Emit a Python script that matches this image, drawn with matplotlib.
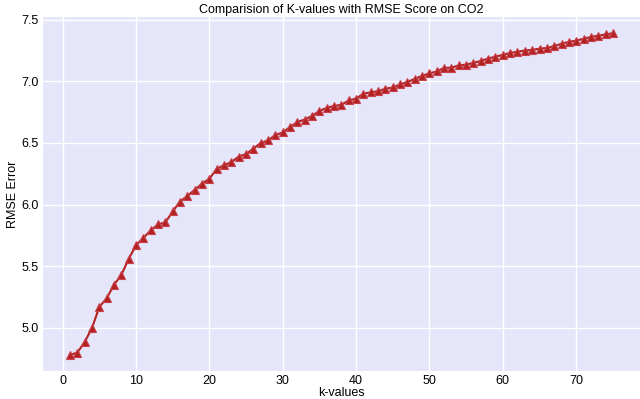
import matplotlib
matplotlib.use("Agg")
import matplotlib.pyplot as plt

k_values = list(range(1, 76))
rmse = [4.78, 4.80, 4.885, 5.00, 5.17, 5.24, 5.35, 5.43, 5.56, 5.67,
        5.73, 5.79, 5.84, 5.855, 5.945, 6.025, 6.07, 6.12, 6.17, 6.21,
        6.29, 6.32, 6.345, 6.39, 6.41, 6.455, 6.50, 6.52, 6.565, 6.585,
        6.63, 6.67, 6.69, 6.72, 6.76, 6.785, 6.80, 6.81, 6.845, 6.86,
        6.90, 6.91, 6.92, 6.94, 6.95, 6.975, 6.995, 7.02, 7.045, 7.065,
        7.08, 7.11, 7.11, 7.13, 7.135, 7.15, 7.165, 7.185, 7.20, 7.215,
        7.23, 7.24, 7.25, 7.255, 7.265, 7.27, 7.285, 7.305, 7.32, 7.33,
        7.345, 7.36, 7.37, 7.38, 7.39]

title = "Comparision of K-values with RMSE Score on CO2"
xlabel = "k-values"
ylabel = "RMSE Error"

plt.rcParams['font.family'] = ['Liberation Sans', 'DejaVu Sans']

fig = plt.figure(figsize=(6.4, 3.99), dpi=100)
ax = fig.add_axes([0.067, 0.070, 0.933, 0.887])
ax.set_facecolor('#E6E6FA')
for s in ax.spines.values():
    s.set_visible(False)
ax.grid(True, color='white', linewidth=1.0)
ax.set_axisbelow(True)
ax.tick_params(length=0, labelsize=9, pad=3)

ax.plot(k_values, rmse, color='#B22222', linewidth=1.5, marker='^',
        markersize=6, markerfacecolor='#B22222', markeredgecolor='#C8404A',
        markeredgewidth=0.8)

ax.set_yticks([5.0, 5.5, 6.0, 6.5, 7.0, 7.5])
ax.set_xticks([0, 10, 20, 30, 40, 50, 60, 70])
ax.set_title(title, fontsize=9, pad=3)
ax.set_xlabel(xlabel, fontsize=9, labelpad=0)
ax.set_ylabel(ylabel, fontsize=9, labelpad=2)

fig.savefig("out.png", dpi=100)
